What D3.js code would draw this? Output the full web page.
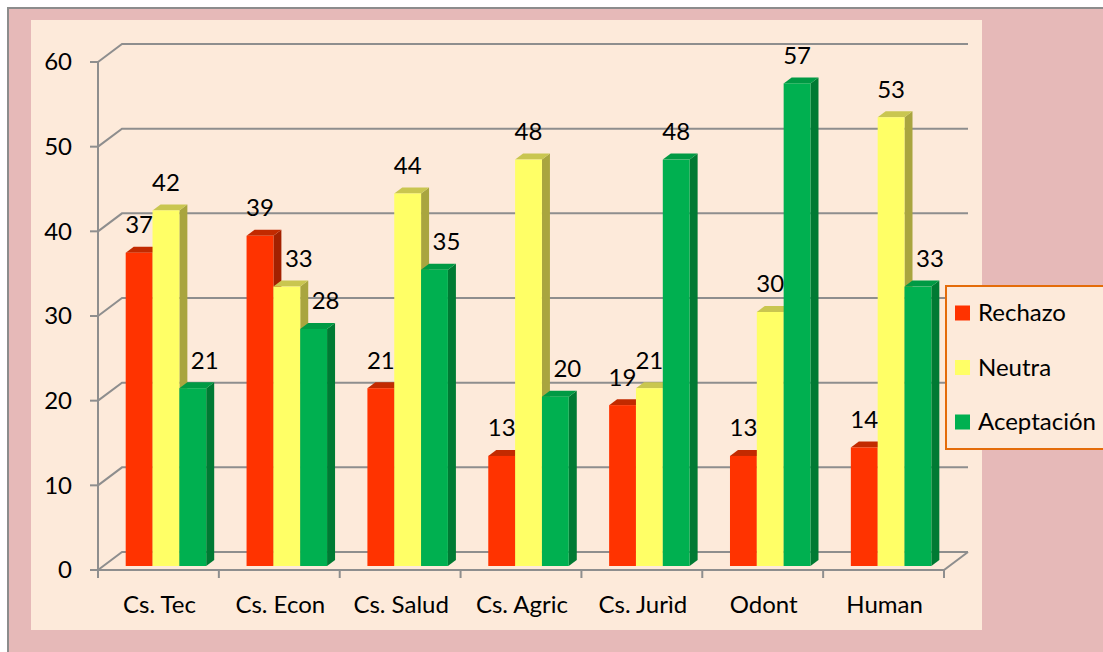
<!DOCTYPE html>
<html>
<head>
<meta charset="utf-8">
<script src="https://cdn.jsdelivr.net/npm/d3@7"></script>
<style>
    html, body { margin: 0; padding: 0; background: #ffffff; }
    svg { display: block; font-family: Lato, "Open Sans", sans-serif; }
    .value-label, .cat-label, .y-label, .legend-text { fill: #000; font-size: 24px; }
</style>
</head>
<body>
<svg id="chart" width="1103" height="652"></svg>
<script>
// 3D clustered column chart: opinion per faculty

const categories = ['Cs. Tec', 'Cs. Econ', 'Cs. Salud', 'Cs. Agric', 'Cs. Jurìd', 'Odont', 'Human'];
const seriesNames = ['Rechazo', 'Neutra', 'Aceptación'];
const rechazo = [37, 39, 21, 13, 19, 13, 14];
const neutra = [42, 33, 44, 48, 21, 30, 53];
const aceptacion = [21, 28, 35, 20, 48, 57, 33];
const yTicks = [0, 10, 20, 30, 40, 50, 60];

const seriesValues = [rechazo, neutra, aceptacion];
const palette = [
    { front: '#ff3300', top: '#c22a00', side: '#a32100' },
    { front: '#ffff66', top: '#c9c650', side: '#a9a53f' },
    { front: '#00b050', top: '#009a44', side: '#007a33' }
];

const svg = d3.select('#chart');

// frame and plot area
svg.append('rect')
    .attr('x', 8).attr('y', 8)
    .attr('width', 1110).attr('height', 660)
    .attr('fill', '#e6b9b8')
    .attr('stroke', '#8c8c8c')
    .attr('stroke-width', 2);

svg.append('rect')
    .attr('x', 31).attr('y', 20)
    .attr('width', 951).attr('height', 610)
    .attr('fill', '#fdeada');

// wall depth of the floor and of each column
const wall = { dx: 24, dy: -18 };
const depth = { dx: 8, dy: -6 };
const shift = { dx: 0, dy: -4 };

const y = d3.scaleLinear().domain([0, 60]).range([570, 62]);
const x0 = d3.scaleBand().domain(categories).range([98, 944]);
const x1 = d3.scaleBand().domain(seriesNames).range([0, 80.5]);
const groupInset = 27.7;

const grid = svg.append('g').attr('fill', 'none').attr('stroke', '#8e8e8e').attr('stroke-width', 2);

// back wall grid lines with the side-wall diagonal
yTicks.forEach(t => {
    const yy = y(t);
    grid.append('polyline')
        .attr('points', `${x0.range()[0]},${yy} ${x0.range()[0] + wall.dx},${yy + wall.dy} ${x0.range()[1] + wall.dx},${yy + wall.dy}`);
    grid.append('line')
        .attr('x1', 90).attr('x2', 98)
        .attr('y1', yy).attr('y2', yy);
});

// vertical axis and floor
grid.append('line')
    .attr('x1', 98).attr('x2', 98)
    .attr('y1', y(60)).attr('y2', y(0));
grid.append('polyline')
    .attr('points', `98,${y(0)} 944,${y(0)} ${944 + wall.dx},${y(0) + wall.dy}`);

categories.concat(['end']).forEach((c, i) => {
    const xx = i < categories.length ? x0(c) : x0.range()[1];
    grid.append('line')
        .attr('x1', xx).attr('x2', xx)
        .attr('y1', y(0)).attr('y2', y(0) + 8);
});

// y labels
svg.append('g').selectAll('text')
    .data(yTicks)
    .join('text')
    .attr('class', 'y-label')
    .attr('x', 72)
    .attr('y', d => y(d))
    .attr('dy', '0.35em')
    .attr('text-anchor', 'end')
    .text(d => d);

// category labels
svg.append('g').selectAll('text')
    .data(categories)
    .join('text')
    .attr('class', 'cat-label')
    .attr('x', d => x0(d) + x0.bandwidth() / 2 + 1)
    .attr('y', 613)
    .attr('text-anchor', 'middle')
    .text(d => d);

// columns, drawn left to right so front faces hide previous side faces
const bars = [];
categories.forEach((c, i) => {
    seriesNames.forEach((s, j) => {
        bars.push({ cat: c, series: s, si: j, ci: i, value: seriesValues[j][i] });
    });
});

const barG = svg.append('g');
bars.forEach(b => {
    const left = x0(b.cat) + groupInset + x1(b.series) + shift.dx;
    const right = left + x1.bandwidth();
    const top = y(b.value) + shift.dy;
    const bottom = y(0) + shift.dy;
    const col = palette[b.si];

    barG.append('polygon')
        .attr('points', `${right},${top} ${right + depth.dx},${top + depth.dy} ${right + depth.dx},${bottom + depth.dy} ${right},${bottom}`)
        .attr('fill', col.side);
    barG.append('polygon')
        .attr('points', `${left},${top} ${left + depth.dx},${top + depth.dy} ${right + depth.dx},${top + depth.dy} ${right},${top}`)
        .attr('fill', col.top);
    barG.append('rect')
        .attr('x', left).attr('y', top)
        .attr('width', x1.bandwidth()).attr('height', bottom - top)
        .attr('fill', col.front);
});

// value labels; nudged right when the column on the left is taller
svg.append('g').selectAll('text')
    .data(bars)
    .join('text')
    .attr('class', 'value-label')
    .attr('x', d => {
        const cx = x0(d.cat) + groupInset + x1(d.series) + x1.bandwidth() / 2;
        const prev = d.si > 0 ? seriesValues[d.si - 1][d.ci] : 0;
        return prev > d.value ? cx + 12 : cx;
    })
    .attr('y', d => y(d.value) + shift.dy - 28)
    .attr('dy', '0.35em')
    .attr('text-anchor', 'middle')
    .text(d => d.value);

// legend
const legend = svg.append('g');
legend.append('rect')
    .attr('x', 946).attr('y', 286)
    .attr('width', 160).attr('height', 163)
    .attr('fill', '#fdeada')
    .attr('stroke', '#e46c0a')
    .attr('stroke-width', 2);

seriesNames.forEach((s, j) => {
    const cy = 313 + j * 54.5;
    legend.append('rect')
        .attr('x', 955).attr('y', cy - 7.5)
        .attr('width', 15).attr('height', 15)
        .attr('fill', palette[j].front);
    legend.append('text')
        .attr('class', 'legend-text')
        .attr('x', 978).attr('y', cy)
        .attr('dy', '0.35em')
        .text(s);
});
</script>
</body>
</html>
